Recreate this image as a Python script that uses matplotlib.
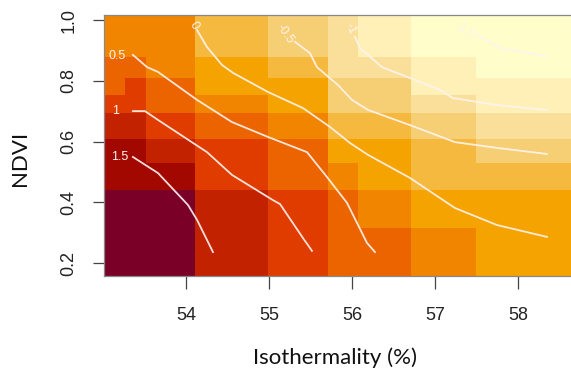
import numpy as np
import matplotlib
matplotlib.use('Agg')
import matplotlib.pyplot as plt
from matplotlib.colors import ListedColormap, BoundaryNorm

# grid cell edges (data units)
x_edges = [53.012, 53.265, 53.518, 54.108, 54.988, 55.711, 56.072, 56.711, 57.494, 58.639]
y_edges = [0.1572, 0.3152, 0.4403, 0.5292, 0.6082, 0.6938, 0.7531, 0.8091, 0.8782, 1.0165]

# colour class of each cell, rows from bottom (low NDVI) to top
cells = [
    [0, 0, 0, 2, 3, 4, 4, 5, 6],
    [0, 0, 0, 2, 3, 4, 5, 6, 6],
    [1, 1, 1, 3, 4, 5, 6, 7, 7],
    [1, 1, 2, 3, 4, 6, 6, 7, 8],
    [2, 2, 3, 4, 5, 7, 7, 8, 9],
    [3, 3, 4, 5, 6, 8, 8, 9, 10],
    [4, 3, 4, 6, 6, 8, 8, 10, 10],
    [4, 4, 5, 6, 7, 9, 9, 10, 11],
    [5, 5, 5, 7, 8, 9, 10, 11, 11],
]

palette = ['#7A0028', '#A20800', '#C22200', '#E03C00', '#EC6400', '#F28500',
           '#F5A300', '#F6B940', '#F6CE74', '#FADF9A', '#FEF0B7', '#FFFDC9']

# contour lines
contours = {
    '1.5': ([53.361, 53.663, 54.024, 54.133, 54.325],
            [0.549, 0.496, 0.391, 0.342, 0.236]),
    '1': ([53.361, 53.506, 53.663, 54.253, 54.554, 55.048, 55.133, 55.410, 55.518],
          [0.700, 0.700, 0.671, 0.565, 0.490, 0.407, 0.394, 0.282, 0.240]),
    '0.5': ([53.361, 53.530, 53.663, 54.133, 54.554, 54.988, 55.458, 55.699, 55.940, 56.181, 56.277],
            [0.885, 0.845, 0.829, 0.737, 0.664, 0.615, 0.565, 0.483, 0.398, 0.266, 0.236]),
    '0': ([54.133, 54.253, 54.434, 54.566, 54.988, 55.410, 55.735, 55.976, 56.193, 56.699, 57.241, 57.747, 58.349],
          [0.967, 0.911, 0.852, 0.826, 0.763, 0.710, 0.648, 0.595, 0.556, 0.480, 0.381, 0.325, 0.286]),
    '-0.5': ([55.313, 55.494, 55.578, 55.831, 56.000, 56.193, 56.699, 57.241, 57.747, 58.349],
             [0.928, 0.891, 0.845, 0.786, 0.737, 0.704, 0.654, 0.598, 0.579, 0.559]),
    '-1': ([56.036, 56.096, 56.361, 56.699, 57.060, 57.217, 57.747, 58.349],
           [0.944, 0.908, 0.845, 0.809, 0.770, 0.743, 0.720, 0.704]),
    '-1.5': ([57.506, 57.783, 58.349],
             [0.951, 0.908, 0.881]),
}

# label anchor and rotation for each contour
label_pos = {
    '1.5': (53.205, 0.549, 0),
    '1': (53.157, 0.700, 0),
    '0.5': (53.169, 0.881, 0),
    '0': (54.096, 0.982, -60),
    '-0.5': (55.193, 0.955, -55),
    '-1': (55.988, 0.970, -65),
    '-1.5': (57.361, 0.965, -30),
}

fig = plt.figure(figsize=(5.71, 3.76), dpi=100)
ax = fig.add_axes([104 / 571, 1 - 276 / 376, 1 - 104 / 571, (276 - 15) / 376])

cmap = ListedColormap(palette)
norm = BoundaryNorm(np.arange(len(palette) + 1) - 0.5, cmap.N)
ax.pcolormesh(x_edges, y_edges, np.array(cells), cmap=cmap, norm=norm,
              shading='flat', antialiased=False)

for lev, (xs, ys) in contours.items():
    ax.plot(xs, ys, color='#FFF4F0', lw=1.3, alpha=0.9)
    lx, ly, rot = label_pos[lev]
    ax.text(lx, ly, lev, color='#FFF4F0', fontsize=9, rotation=rot,
            ha='center', va='center', family='Liberation Sans')

ax.set_xlim(x_edges[0], x_edges[-1])
ax.set_ylim(y_edges[0], y_edges[-1])
ax.set_xticks([54, 55, 56, 57, 58])
ax.set_yticks([0.2, 0.4, 0.6, 0.8, 1.0])
ax.set_yticklabels(['0.2', '0.4', '0.6', '0.8', '1.0'], rotation=90, va='center')
for lab in ax.get_xticklabels() + ax.get_yticklabels():
    lab.set_family('Liberation Sans')
    lab.set_fontsize(13)
    lab.set_color('#222222')
ax.tick_params(axis='x', length=9, width=0.9, color='#444444', pad=13)
ax.tick_params(axis='y', length=8, width=0.9, color='#444444', pad=11)

for s in ['left', 'top', 'bottom']:
    ax.spines[s].set_color('#888888')
    ax.spines[s].set_linewidth(0.9)
ax.spines['right'].set_visible(False)

fig.text(335 / 571, 1 - 358 / 376, 'Isothermality (%)', ha='center', va='center',
         fontsize=16, family='Lato', color='#111111')
fig.text(20 / 571, 1 - 158 / 376, 'NDVI', ha='center', va='center', rotation=90,
         fontsize=16, family='Lato', color='#111111')

fig.savefig('out.png', dpi=100)
